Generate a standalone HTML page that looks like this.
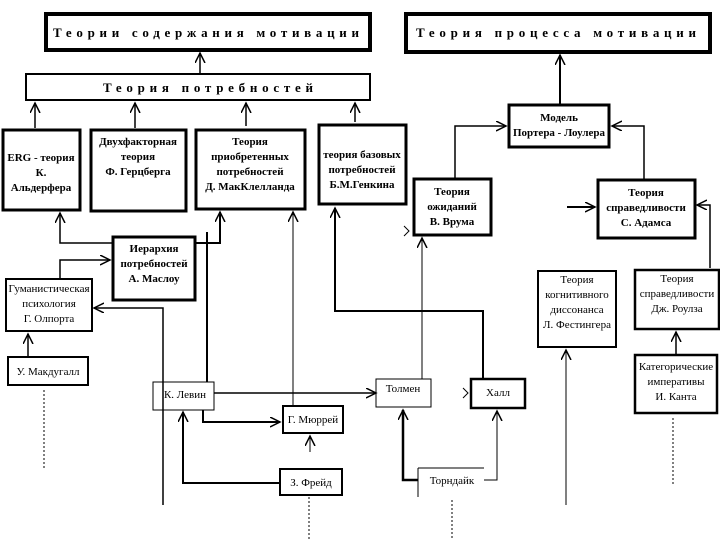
<!DOCTYPE html>
<html><head><meta charset="utf-8"><style>
html,body{margin:0;padding:0;background:#fff}
svg{display:block}
text{font-family:"Liberation Serif",serif;fill:#000}
.b{font-weight:bold}
</style></head><body>
<svg width="720" height="540" viewBox="0 0 720 540">
<defs>
<marker id="a" markerWidth="12" markerHeight="12" refX="10" refY="5" orient="auto" markerUnits="userSpaceOnUse">
<path d="M0,0 L10,5 L0,10" fill="none" stroke="#000" stroke-width="1.5"/>
</marker>
</defs>
<g fill="#fff" stroke="#000">
<rect x="46" y="14" width="324" height="36" stroke-width="4"/>
<rect x="406" y="14" width="304" height="38" stroke-width="4"/>
<rect x="26" y="74" width="344" height="26" stroke-width="2"/>
<rect x="3" y="130" width="77" height="80" stroke-width="3"/>
<rect x="91" y="130" width="95" height="81" stroke-width="3"/>
<rect x="196" y="130" width="109" height="79" stroke-width="3"/>
<rect x="319" y="125" width="87" height="79" stroke-width="3"/>
<rect x="509" y="105" width="100" height="42" stroke-width="3"/>
<rect x="414" y="179" width="77" height="56" stroke-width="3"/>
<rect x="598" y="180" width="97" height="58" stroke-width="3"/>
<rect x="113" y="237" width="82" height="63" stroke-width="3"/>
<rect x="6" y="279" width="86" height="52" stroke-width="2"/>
<rect x="8" y="357" width="80" height="28" stroke-width="2"/>
<rect x="153" y="382" width="61" height="28" stroke-width="1"/>
<rect x="283" y="406" width="60" height="27" stroke-width="2"/>
<rect x="280" y="469" width="62" height="26" stroke-width="2"/>
<rect x="376" y="379" width="55" height="28" stroke-width="1"/>
<rect x="471" y="379" width="54" height="29" stroke-width="2.5"/>
<rect x="538" y="271" width="78" height="76" stroke-width="2"/>
<rect x="635" y="270" width="84" height="59" stroke-width="2.5"/>
<rect x="635" y="355" width="82" height="58" stroke-width="2.5"/>
</g>
<path d="M418,468 H484 M418,468 V497" stroke="#000" stroke-width="1" fill="none"/>
<g stroke="#000" fill="none" stroke-width="1.5">
<line x1="200" y1="74" x2="200" y2="53" marker-end="url(#a)"/>
<line x1="35" y1="128" x2="35" y2="103" marker-end="url(#a)"/>
<line x1="135" y1="128" x2="135" y2="103" marker-end="url(#a)"/>
<line x1="246" y1="126" x2="246" y2="103" marker-end="url(#a)"/>
<line x1="355" y1="122" x2="355" y2="103" marker-end="url(#a)"/>
<line x1="560" y1="104" x2="560" y2="55" marker-end="url(#a)" stroke-width="2"/>
<path d="M455,178 V126 H506" marker-end="url(#a)"/>
<path d="M644,179 V126 H612" marker-end="url(#a)"/>
<line x1="567" y1="207" x2="595" y2="207" marker-end="url(#a)" stroke-width="2"/>
<path d="M710,268 V205 H697" marker-end="url(#a)"/>
<path d="M112,243 H60 V213" marker-end="url(#a)"/>
<path d="M195,243 H220 V212" marker-end="url(#a)" stroke-width="2"/>
<line x1="207" y1="232" x2="207" y2="382" stroke-width="2"/>
<path d="M60,279 V260 H110" marker-end="url(#a)"/>
<path d="M163,505 V308 H94" marker-end="url(#a)"/>
<line x1="28" y1="357" x2="28" y2="334" marker-end="url(#a)"/>
<path d="M214,393 H376" marker-end="url(#a)"/>
<line x1="293" y1="406" x2="293" y2="212" marker-end="url(#a)" stroke-width="1"/>
<path d="M203,410 V422 H280" marker-end="url(#a)" stroke-width="2"/>
<line x1="310" y1="452" x2="310" y2="436" marker-end="url(#a)" stroke-width="1"/>
<path d="M280,483 H183 V412" marker-end="url(#a)" stroke-width="2"/>
<path d="M483,379 V311 H335 V208" marker-end="url(#a)" stroke-width="2"/>
<line x1="422" y1="379" x2="422" y2="238" marker-end="url(#a)" stroke-width="1"/>
<path d="M418,480 H403 V410" marker-end="url(#a)" stroke-width="2.5"/>
<path d="M484,480 H497 V411" marker-end="url(#a)" stroke-width="1"/>
<line x1="566" y1="505" x2="566" y2="350" marker-end="url(#a)" stroke-width="1"/>
<line x1="676" y1="355" x2="676" y2="332" marker-end="url(#a)"/>
<path d="M404,226 L409,231 L404,236 M463,388 L468,393 L463,398" stroke-width="1"/>
</g>
<g stroke="#000" stroke-width="1" stroke-dasharray="2,2">
<line x1="44" y1="390" x2="44" y2="470"/>
<line x1="309" y1="497" x2="309" y2="540"/>
<line x1="452" y1="500" x2="452" y2="540"/>
<line x1="673" y1="418" x2="673" y2="485"/>
</g>
<g font-size="13">
<text x="53" y="37" class="b" textLength="306" lengthAdjust="spacing">Теории содержания мотивации</text>
<text x="416" y="37" class="b" textLength="280" lengthAdjust="spacing">Теория процесса мотивации</text>
<text x="103" y="92" class="b" textLength="210" lengthAdjust="spacing">Теория потребностей</text>
</g>
<g font-size="11" text-anchor="middle" class="b">
<text x="41" y="161">ERG - теория</text><text x="41" y="176">К.</text><text x="41" y="191">Альдерфера</text>
<text x="138" y="145">Двухфакторная</text><text x="138" y="160">теория</text><text x="138" y="175">Ф. Герцберга</text>
<text x="250" y="145">Теория</text><text x="250" y="160">приобретенных</text><text x="250" y="175">потребностей</text><text x="250" y="190">Д. МакКлелланда</text>
<text x="362" y="158">теория базовых</text><text x="362" y="173">потребностей</text><text x="362" y="188">Б.М.Генкина</text>
<text x="559" y="121">Модель</text><text x="559" y="136">Портера - Лоулера</text>
<text x="452" y="195">Теория</text><text x="452" y="210">ожиданий</text><text x="452" y="225">В. Врума</text>
<text x="646" y="196">Теория</text><text x="646" y="211">справедливости</text><text x="646" y="226">С. Адамса</text>
<text x="154" y="252">Иерархия</text><text x="154" y="267">потребностей</text><text x="154" y="282">А. Маслоу</text>
</g>
<g font-size="11" text-anchor="middle">
<text x="49" y="292">Гуманистическая</text><text x="49" y="307">психология</text><text x="49" y="322">Г. Олпорта</text>
<text x="48" y="375">У. Макдугалл</text>
<text x="185" y="398">К. Левин</text>
<text x="313" y="423">Г. Мюррей</text>
<text x="311" y="486">З. Фрейд</text>
<text x="403" y="392">Толмен</text>
<text x="498" y="396">Халл</text>
<text x="452" y="484">Торндайк</text>
<text x="577" y="283">Теория</text><text x="577" y="298">когнитивного</text><text x="577" y="313">диссонанса</text><text x="577" y="328">Л. Фестингера</text>
<text x="677" y="282">Теория</text><text x="677" y="297">справедливости</text><text x="677" y="312">Дж. Роулза</text>
<text x="676" y="370">Категорические</text><text x="676" y="385">императивы</text><text x="676" y="400">И. Канта</text>
</g>
</svg>
</body></html>
